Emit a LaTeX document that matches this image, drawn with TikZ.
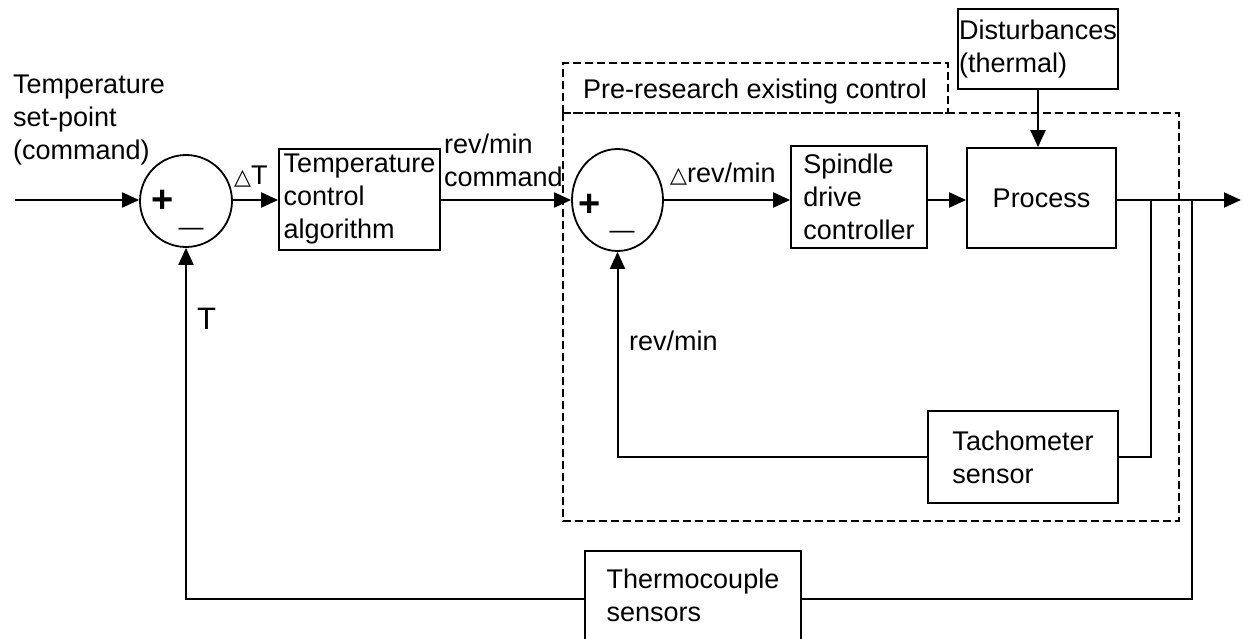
\documentclass[tikz,border=0pt]{standalone}
\usepackage{fontspec}
\setmainfont{Liberation Sans}
\newfontfamily\dejavu{DejaVu Sans}
\usetikzlibrary{arrows.meta,shapes.geometric}
\newcommand{\tri}{{\dejavu\fontsize{22}{22}\selectfont △}}
\begin{document}
\begin{tikzpicture}[x=1pt,y=-1pt,
  font=\fontsize{27}{33}\selectfont,
  blk/.style={draw, line width=1.8pt, inner sep=0pt, align=left},
  conn/.style={line width=2pt},
  arr/.style={conn, -{Triangle[length=17pt,width=15pt]}},
  fb/.style={line width=1.5pt},
  frame/.style={line width=1.5pt, dash pattern=on 8pt off 4pt},
  lbl/.style={inner sep=0pt, align=left}]
\useasboundingbox (0,0) rectangle (1243,639);
\clip (0,0) rectangle (1243,639);

% frames
\draw[frame] (563,113) rectangle (948,63);
\draw[frame] (563,113) rectangle (1179,521);

% summing junctions
\node[blk, circle, minimum size=92pt] (s1) at (186,201) {};
\node[blk, ellipse, minimum width=91pt, minimum height=102pt] (s2) at (617.5,200) {};
\node[lbl, font=\fontsize{38}{38}\selectfont\bfseries] (p1) at (163,201) {+};
\node[lbl, font=\fontsize{25}{25}\selectfont] (m1) at (191,232) {—};
\node[lbl, font=\fontsize{38}{38}\selectfont\bfseries] (p2) at (590,205) {+};
\node[lbl, font=\fontsize{25}{25}\selectfont] (m2) at (622,235) {—};

% blocks
\node[blk, minimum width=161pt, minimum height=101pt] (tca) at (359.5,199.5) {Temperature\\control\\algorithm};
\node[blk, minimum width=136pt, minimum height=102pt] (sdc) at (859,197) {Spindle\\drive\\controller};
\node[blk, minimum width=149pt, minimum height=100pt] (proc) at (1041.5,198) {Process};
\node[blk, minimum width=160pt, minimum height=80pt] (dist) at (1038,49) {Disturbances\\(thermal)};
\node[blk, minimum width=190pt, minimum height=92pt] (tach) at (1023,457) {Tachometer\\sensor};
\node[blk, minimum width=216pt, minimum height=96pt, text depth=8pt] (thermo) at (693,599) {Thermocouple\\sensors};

% labels
\node[lbl, anchor=north west] (sp) at (13,75) {Temperature\\set-point\\(command)};
\node[lbl, anchor=base west] (dT) at (234,185) {\tri T};
\node[lbl, anchor=north west] (rc) at (444,134) {rev/min\\command};
\node[lbl, anchor=base west] (drm) at (670,183) {\tri rev/min};
\node[lbl, anchor=base west] (rm) at (629,350) {rev/min};
\node[lbl, anchor=base west, font=\fontsize{31}{31}\selectfont] (Tl) at (197,330) {T};
\node[lbl, anchor=base west] (pre) at (583,99) {Pre-research existing control};

% coordinates
\coordinate (in) at (15,200);
\coordinate (out) at (1241,200);
\coordinate (b1) at (1151,200);
\coordinate (b2) at (1192,200);

% connectors
\draw[arr] (in) -- (in -| s1.west);
\draw[arr] (in -| s1.east) -- (in -| tca.west);
\draw[arr] (in -| tca.east) -- (s2.west);
\draw[arr] (s2.east) -- (s2.east -| sdc.west);
\draw[arr] (s2.east -| sdc.east) -- (s2.east -| proc.west);
\draw[arr] (s2.east -| proc.east) -- (out);
\draw[arr] (dist.south) -- (dist.south |- proc.north);
\draw[fb] (b1) |- (tach.east);
\draw[arr] (tach.west) -| (s2.south);
\draw[fb] (b2) |- (thermo.east);
\draw[arr] (thermo.west) -| (s1.south);
\end{tikzpicture}
\end{document}
